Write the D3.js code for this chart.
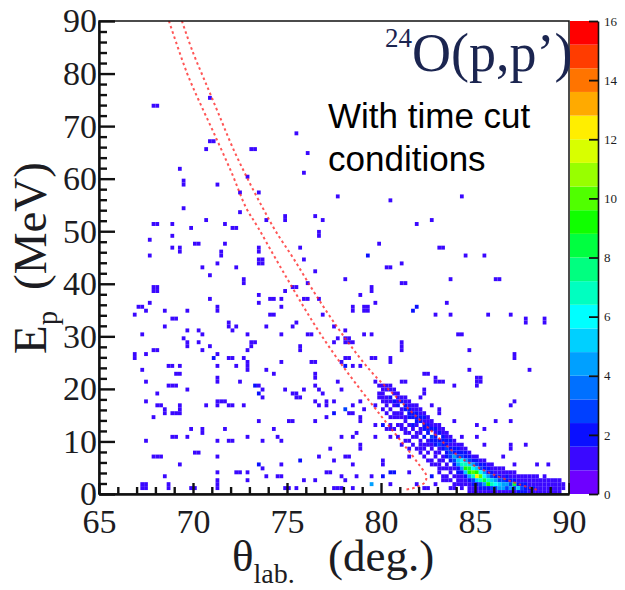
<!DOCTYPE html>
<html>
<head>
<meta charset="utf-8">
<script src="https://cdn.jsdelivr.net/npm/d3@7"></script>
<style>
  body { margin: 0; background: #fff; }
  svg { display: block; }
</style>
</head>
<body>
<svg width="625" height="590"></svg>
<script>
const xTickLabels = [65, 70, 75, 80, 85, 90];
const yTickLabels = [0, 10, 20, 30, 40, 50, 60, 70, 80, 90];
const zTickLabels = [0, 2, 4, 6, 8, 10, 12, 14, 16];
const xMinorTicks = d3.range(66, 90).filter(v => v % 5 !== 0);
const yMinorTicks = d3.range(2, 90, 2).filter(v => v % 10 !== 0);

// ROOT style palette, 20 contour levels from 0 to 16
const palette = ['#6e00ff', '#3a08ff', '#0a10ff', '#0040ff', '#0070ff', '#00a0ff', '#00d0ff', '#00ffff',
  '#00ffc0', '#00ff80', '#00ff40', '#10ff00', '#50ff00', '#98ff00', '#d8ff00', '#ffee00',
  '#ffaa00', '#ff7400', '#ff3c00', '#ff0000'];

// isolated cells [theta, E, count=1]
const sparseCells = [
  [67.9,74.1],[68.1,74.1],[70.85,75.0],[70.9,67.4],[71.1,67.4],[70.7,65.3],[73.0,65.3],[73.2,65.3],
  [69.2,61.5],[69.5,59.6],[69.5,58.9],[71.2,58.7],[72.9,60.6],[72.45,57.2],[73.4,57.2],[69.4,54.7],
  [72.45,53.7],[67.9,51.3],[68.1,51.3],[68.8,51.3],[70.7,51.8],[71.65,51.3],[72.0,50.9],[72.2,50.9],
  [69.9,50.3],[67.7,48.4],[68.8,48.8],[70.0,47.9],[70.2,47.9],[71.65,47.9],[68.8,46.9],[69.2,46.8],
  [69.2,46.0],[67.6,45.6],[71.4,46.3],[71.4,45.6],[73.5,47.0],[73.5,46.3],
  [75.48,68.4],[76.06,64.9],[75.85,61.0],[77.77,56.4],[80.48,55.6],[74.9,53.0],[74.9,52.3],[76.54,53.0],
  [76.8,51.8],[76.65,50.2],[76.65,49.4],[73.8,51.8],[75.7,46.9],[79.95,47.9],[79.36,45.0],[75.85,44.8],
  [84.36,56.4],[81.9,51.3],[82.66,52.2],[83.15,46.9],[83.35,46.9],[84.5,45.0],[85.5,45.6],
  [83.7,40.6],[86.1,41.2],[86.3,41.2],[81.8,35.7],[81.6,35.0],[83.46,36.3],[82.9,34.0],[83.7,34.0],
  [85.6,34.0],[86.97,34.4],[87.77,33.0],[87.77,32.3],[88.7,33.0],[88.7,32.3],[84.1,30.6],[84.3,30.6],
  [84.7,27.2],[87.07,26.4],[87.07,25.6],[87.9,23.4],[84.7,23.4],[82.2,22.8],[82.4,22.8],[82.8,22.3],
  [82.8,21.6],[83.15,21.3],[83.35,21.3],[83.8,20.9],[85.0,22.3],[85.2,22.3],[85.0,21.6],[85.2,21.6],
  [85.0,20.7],[82.35,19.9],[82.2,19.4],[82.07,18.5],[87.07,17.5],[86.8,16.5],[83.05,15.8],[83.05,15.2],
  [82.66,17.1],[83.8,14.0],[86.0,13.7],[86.97,13.7],[85.1,13.1],[85.5,12.7],[84.36,11.2],[85.1,11.2],
  [85.5,9.7],[86.97,9.3],[86.97,8.6],[87.66,9.7],[86.5,7.4],[88.99,5.9],[88.3,5.9],[87.0,5.9],
  [73.56,44.4],[73.75,44.4],[73.56,43.5],[73.75,43.5],[76.4,42.5],[79.38,45.1],[80.2,43.1],[80.4,43.1],
  [81.0,44.1],[78.0,41.2],[81.1,40.3],[81.3,40.3],[79.5,39.6],[79.5,38.8],[75.34,39.7],[75.43,39.1],
  [76.05,40.3],[74.89,38.3],[73.48,37.8],[73.48,36.3],[74.0,37.3],[74.2,37.3],[74.63,37.3],[74.63,35.6],
  [75.8,37.3],[76.0,37.3],[76.67,36.8],[78.97,37.8],[78.44,35.9],[78.44,35.1],[79.1,35.9],[79.3,35.9],
  [79.1,35.2],[79.3,35.2],[79.77,36.3],[81.63,34.9],[81.8,35.6],[74.0,34.0],[74.2,34.0],[76.84,34.0],
  [73.97,31.6],[74.63,30.5],[75.51,32.4],[75.34,32.1],[77.55,32.1],[76.1,30.2],[76.3,30.2],[78.09,31.2],
  [77.64,29.3],[77.46,28.6],[78.1,29.4],[78.3,29.4],[78.1,28.6],[78.3,28.6],[78.5,28.9],[79.15,30.5],
  [79.4,30.1],[81.19,28.6],[81.19,27.9],[81.19,27.2],[75.78,28.3],[75.66,27.4],[73.3,28.9],[74.63,25.3],
  [76.22,25.3],[76.49,24.8],[78.09,26.1],[78.26,25.5],[78.18,24.5],[78.53,24.2],[77.82,25.1],[78.0,24.2],
  [79.5,25.5],[79.77,26.1],[80.48,26.1],[80.48,25.4],[78.97,24.5],[73.83,23.9],[74.36,22.9],[76.58,22.9],
  [76.4,22.0],[77.64,21.0],[77.91,19.8],[79.6,21.3],[79.86,20.7],[80.1,20.4],[81.1,21.0],[81.3,21.0],
  [73.48,20.4],[73.65,19.8],[73.56,18.8],[73.74,18.2],[74.8,20.1],[75.34,19.1],[75.51,18.8],[75.43,18.2],
  [75.78,18.2],[75.96,19.5],[76.49,20.4],[76.76,19.8],[76.93,18.8],[77.02,17.9],[77.46,17.5],[76.4,17.5],
  [76.76,17.2],[78.09,16.3,3],[78.26,15.6],[78.44,16.9],[78.44,15.6],[77.11,16.6],[77.46,15.6],[78.97,17.5],
  [79.06,16.3],[79.6,17.2],[79.86,19.4],[79.95,18.2],[73.56,13.7],[75.0,13.7],[75.2,13.7],[76.4,13.7],
  [77.11,14.4],[77.46,15.0],[78.97,14.4],[78.88,13.7],[79.6,12.8],[80.0,12.8],[74.27,12.1],[74.54,11.2],
  [74.63,10.3],[73.65,10.3],[77.99,10.9],[78.44,11.2],[78.62,11.5],[79.77,10.7],[78.97,9.3],[78.88,8.7],
  [76.76,7.4],[77.38,8.4],[77.55,6.5],[78.09,7.4],[78.26,7.4],[78.53,5.8],[80.0,5.8],[75.69,6.4,2],
  [73.56,5.5],[73.74,4.6],[74.72,5.5],[74.63,3.6],[74.54,3.0],[73.83,3.0],[75.96,2.4],[77.0,3.9],
  [77.2,3.9],[77.91,3.6],[78.0,2.4],[78.62,3.6],[76.49,2.7],[79.4,3.6],[80.0,3.6],[80.5,3.9],[80.7,3.9],
  [80.48,1.7],[77.4,1.1],[77.6,1.1],[77.8,1.1],[78.44,1.1],[79.4,1.7,4],[74.8,1.1],[75.0,1.1],[75.43,1.1],
  [71.38,44.1],[70.44,43.1],[72.2,43.1],[70.85,41.6],[72.62,40.6],[72.77,40.2],[67.9,39.4],[68.1,39.4],
  [67.9,38.8],[68.1,38.8],[70.85,36.8],[71.38,35.9],[71.38,35.2],[67.1,35.9],[67.3,35.8],[66.95,34.4],
  [67.45,34.9],[67.7,36.3],[68.55,34.9],[69.63,34.9],[68.9,33.4],[69.1,33.4],[68.55,32.0],[71.97,32.9],
  [71.97,32.0],[72.27,31.5],[72.1,31.0],[69.63,31.0],[70.27,31.0],[70.59,30.1],[70.27,28.9],[69.49,29.6],
  [69.75,28.9],[69.75,28.2],[67.3,30.1],[70.85,28.2],[72.8,30.1],[73.07,28.9],[73.16,28.4],[72.9,27.7],
  [70.59,27.2],[67.95,27.2],[68.15,27.2],[67.59,26.7],[66.91,26.0],[66.91,26.6],[71.03,26.0],[71.17,25.6],
  [71.38,26.7],[71.97,26.0],[72.1,25.6],[72.77,26.0],[72.9,24.9],[72.9,24.2],[72.9,23.4],[72.36,24.7],
  [68.6,24.7],[68.8,24.7],[69.34,24.7],[71.24,24.3],[69.0,22.9],[69.2,22.9],[67.3,23.3],[67.45,21.3],
  [71.24,22.2],[71.24,21.6],[72.45,21.3],[68.6,20.3],[68.8,20.3],[69.0,20.3],[69.75,19.9],[68.08,19.4],
  [73.26,20.3,2],[67.59,17.5],[68.0,17.0],[68.2,17.0],[69.22,17.0],[69.34,16.0],[69.22,15.5],[68.55,16.0],
  [68.55,15.4],[68.9,15.0],[69.1,15.0],[70.71,16.5],[71.24,16.5],[71.38,17.9],[71.52,17.5],[71.65,17.5],
  [71.9,16.5],[72.1,16.5],[72.62,17.0],[73.47,18.8],[67.85,14.6],[69.9,12.7],[70.59,12.2],[70.59,11.6],
  [71.65,12.7],[68.9,11.2],[69.1,11.2],[69.75,11.2],[71.38,10.3],[71.9,10.3],[72.1,10.3],[72.9,10.7],
  [67.5,9.8],[67.85,7.4],[68.0,6.9],[68.2,6.9],[70.0,7.9],[70.2,7.9],[71.38,7.4],[69.34,5.8],[71.24,4.4],
  [72.36,3.9],[72.5,4.4],[72.9,3.9],[73.4,5.3],[68.55,3.0],[68.67,2.0],[68.67,1.4],[67.3,1.4],[67.45,1.4],
  [67.3,2.0],[67.45,2.0],[71.24,2.6],[71.24,2.0],[71.24,1.4],[69.9,1.1],[70.1,1.1],[72.9,2.5],
  [80.48,12.7],[82.0,8.6],[81.5,7.1],[80.12,6.2],[80.74,4.2],[80.48,4.2],[80.04,3.6],[81.45,3.9],
  [82.6,3.6],[82.78,3.0],[83.14,4.6],[83.5,3.3],[81.9,1.7],[82.25,1.1],[82.87,1.7],[83.3,2.4],
  [83.67,1.1],[82.5,1.1],[83.9,1.1],[84.1,1.9],[84.3,1.1]
];

// dense kinematic band: [theta bin centre, [[E, count], ...]]
const bandColumns = [
  [80.1, [[19.9,1],[19.1,1],[17.6,1],[18.4,1],[16.1,1],[13.1,1]]],
  [80.3, [[20.6,1],[19.9,1],[17.6,1],[18.4,1],[16.9,1],[15.4,1],[12.4,1]]],
  [80.5, [[19.9,1],[18.4,2],[17.6,1],[16.1,1],[14.6,1],[20.6,1],[13.1,1],[10.9,1]]],
  [80.7, [[19.1,1],[17.6,2],[16.9,1],[15.4,1],[14.6,1],[19.9,1],[12.4,1]]],
  [80.9, [[18.4,1],[17.6,1],[16.9,2],[14.6,1],[13.1,1],[19.1,1],[15.4,1],[10.9,1]]],
  [81.1, [[18.4,1],[17.6,2],[15.4,1],[14.6,1],[12.4,1],[16.1,1],[13.1,1],[9.4,1]]],
  [81.3, [[17.6,1],[16.9,2],[16.1,2],[13.9,1],[12.4,1],[18.4,1],[14.6,1],[11.6,1],[10.1,1]]],
  [81.5, [[16.9,1],[16.1,2],[15.4,2],[14.6,2],[11.6,1],[17.6,1],[13.1,1],[10.1,1],[8.6,1]]],
  [81.7, [[16.1,1],[15.4,2],[14.6,2],[13.1,2],[10.9,1],[16.9,1],[12.4,1],[9.4,1]]],
  [81.9, [[16.1,1],[15.4,2],[13.9,2],[13.1,1],[10.9,1],[16.9,1],[14.6,2],[11.6,1],[8.6,1]]],
  [82.1, [[15.4,1],[14.6,2],[13.9,2],[12.4,1],[11.6,1],[10.1,1],[16.1,1],[9.4,1],[7.9,1]]],
  [82.3, [[14.6,2],[13.9,1],[13.1,2],[12.4,2],[10.9,2],[9.4,1],[15.4,1],[8.6,1],[7.1,1]]],
  [82.5, [[13.9,1],[13.1,2],[12.4,2],[11.6,2],[10.1,1],[9.4,1],[14.6,1],[7.9,1],[6.4,1]]],
  [82.7, [[13.1,1],[12.4,2],[10.9,3],[10.1,2],[9.4,1],[8.6,1],[13.9,1],[6.4,1],[5.6,1]]],
  [82.9, [[12.4,2],[11.6,1],[10.9,2],[10.1,2],[9.4,2],[7.9,1],[13.1,1],[7.1,1],[5.6,1]]],
  [83.1, [[12.4,1],[11.6,2],[10.1,2],[9.4,3],[8.6,1],[7.9,1],[6.4,1],[13.1,1],[5.6,1],[4.1,1]]],
  [83.3, [[11.6,1],[10.9,2],[10.1,2],[9.4,2],[8.6,2],[7.1,1],[12.4,1],[6.4,1],[4.9,1],[3.4,1]]],
  [83.5, [[10.9,1],[10.1,2],[9.4,2],[8.6,3],[7.9,2],[7.1,2],[5.6,1],[11.6,1],[4.9,1],[2.6,1]]],
  [83.7, [[10.1,2],[9.4,1],[8.6,2],[7.9,3],[7.1,3],[6.4,2],[4.1,1],[10.9,1],[4.9,1],[2.6,1]]],
  [83.9, [[9.4,1],[8.6,2],[7.9,2],[7.1,4],[6.4,3],[5.6,2],[4.9,1],[3.4,1],[10.1,1],[1.9,1]]],
  [84.1, [[9.4,1],[8.6,2],[7.9,2],[7.1,3],[6.4,5],[5.6,4],[4.9,2],[4.1,2],[3.4,1],[2.6,1]]],
  [84.3, [[8.6,1],[7.9,2],[7.1,3],[6.4,6],[5.6,7],[4.9,4],[4.1,2],[3.4,1],[2.6,1],[9.4,1],[1.9,1]]],
  [84.5, [[7.9,2],[7.1,2],[6.4,4],[5.6,7],[4.9,9],[4.1,5],[3.4,2],[2.6,1],[8.6,1],[1.9,1]]],
  [84.7, [[7.1,2],[6.4,3],[5.6,5],[4.9,8],[4.1,9],[3.4,4],[2.6,2],[1.9,1],[7.9,1],[1.1,1],[0.4,1]]],
  [84.9, [[6.4,2],[5.6,4],[4.9,6],[4.1,10],[3.4,7],[2.6,3],[1.9,2],[1.1,1],[7.1,1],[0.4,1]]],
  [85.1, [[6.4,2],[5.6,3],[4.9,5],[4.1,9],[3.4,12],[2.6,5],[1.9,2],[1.1,1],[7.1,1],[0.4,1]]],
  [85.3, [[5.6,2],[4.9,3],[4.1,6],[3.4,10],[2.6,7],[1.9,3],[1.1,2],[6.4,1],[0.4,1]]],
  [85.5, [[5.6,2],[4.9,2],[4.1,4],[3.4,6],[2.6,8],[1.9,4],[1.1,2],[6.4,1],[0.4,1]]],
  [85.7, [[4.9,2],[4.1,2],[3.4,4],[2.6,7],[1.9,9],[1.1,2],[5.6,1],[0.4,1]]],
  [85.9, [[4.9,1],[4.1,2],[3.4,3],[2.6,5],[1.9,7],[1.1,3],[0.4,1],[5.6,1]]],
  [86.1, [[4.1,1],[3.4,2],[2.6,4],[1.9,6],[1.1,3],[4.9,1],[0.4,1]]],
  [86.3, [[4.1,1],[3.4,2],[2.6,3],[1.9,5],[1.1,4],[0.4,1],[4.9,1]]],
  [86.5, [[4.9,1],[3.4,1],[2.6,3],[1.9,4],[1.1,4],[0.4,1],[4.1,1]]],
  [86.7, [[3.4,2],[2.6,2],[1.9,4],[1.1,3],[0.4,1],[4.1,1]]],
  [86.9, [[4.1,1],[2.6,2],[1.9,3],[1.1,4],[3.4,1],[0.4,1]]],
  [87.1, [[3.4,1],[2.6,2],[1.9,8],[1.1,3],[0.4,1],[4.1,1]]],
  [87.3, [[3.4,1],[1.9,2],[1.1,5],[0.4,2],[2.6,1]]],
  [87.5, [[2.6,1],[1.9,2],[1.1,3],[0.4,2],[3.4,1]]],
  [87.7, [[2.6,1],[1.9,2],[1.1,2],[0.4,2],[3.4,1]]],
  [87.9, [[3.4,1],[1.9,1],[1.1,2],[0.4,1],[2.6,1]]],
  [88.1, [[2.6,1],[1.9,1],[1.1,2],[0.4,1],[3.4,1]]],
  [88.3, [[3.4,1],[1.9,1],[1.1,1],[2.6,1],[0.4,1]]],
  [88.5, [[1.9,1],[1.1,1],[2.6,1],[0.4,1]]],
  [88.7, [[2.6,1],[1.9,1],[1.1,1],[3.4,1],[0.4,1]]],
  [88.9, [[1.9,1],[1.1,1],[2.6,1],[0.4,1]]],
  [89.1, [[2.6,1],[1.9,1],[1.1,1],[0.4,1]]],
  [89.3, [[2.6,1],[1.1,1],[1.9,1],[0.4,1]]],
  [89.5, [[1.9,1],[1.1,1],[2.6,1],[0.4,1]]],
  [89.7, [[1.9,1],[1.1,1]]]
];

// kinematic cut lines [theta, E]
const lowerCut = [[68.72,90],[69.68,80.1],[70.32,74.8],[71.12,68.6],[72.07,61.0],[72.82,54.5],[73.46,50.7],
  [74.36,45.0],[76.38,32.7],[77.55,26.4],[78.6,21.3],[79.84,15.6],[81.1,9.9],[81.65,7.4],[82.1,5.2],
  [82.4,3.6],[82.35,2.3],[81.9,1.3],[81.2,0.8]];
const upperCut = [[69.41,90],[70.0,84.0],[70.7,78.0],[71.4,72.0],[72.1,66.0],[72.9,60.0],[73.7,54.5],
  [74.4,50.0],[75.4,44.5],[76.6,37.5],[78.1,29.6],[79.5,23.2],[80.8,18.5],[81.4,16.4],[82.8,11.6],
  [84.2,7.0],[85.6,4.3],[87.0,2.3],[87.9,1.2],[88.3,0.8]];

const binX = 0.2, binY = 0.75, zMax = 16;
const serif = '"Liberation Serif", "DejaVu Serif", serif';
const ink = '#1c1c22';
const tickInk = '#111';
const margin = { left: 99, right: 56, top: 21, bottom: 96 };

const svg = d3.select('svg');
const width = +svg.attr('width');
const height = +svg.attr('height');
const plotW = width - margin.left - margin.right;
const plotH = height - margin.top - margin.bottom;

const xScale = d3.scaleLinear().domain([65, 90]).range([0, plotW]);
const yScale = d3.scaleLinear().domain([0, 90]).range([plotH, 0]);
const zScale = d3.scaleQuantize().domain([0, zMax]).range(palette);

// fill the 2D histogram
const counts = new Map();
const addCell = (t, e, n) => {
  const i = Math.floor((t - 65) / binX + 1e-6);
  const j = Math.floor(e / binY + 1e-6);
  const k = i + ',' + j;
  counts.set(k, (counts.get(k) || 0) + n);
};
sparseCells.forEach(d => addCell(d[0], d[1], d[2] || 1));
bandColumns.forEach(([t, list]) => list.forEach(([e, n]) => addCell(t, e, n)));
const cells = Array.from(counts, ([k, n]) => {
  const [i, j] = k.split(',').map(Number);
  return { x0: 65 + i * binX, y0: j * binY, n: n };
});

const g = svg.append('g')
  .attr('transform', `translate(${margin.left}, ${margin.top})`);

g.append('clipPath').attr('id', 'plotclip')
  .append('rect').attr('width', plotW).attr('height', plotH);

const cellG = g.append('g').attr('clip-path', 'url(#plotclip)');
cellG.selectAll('rect').data(cells).enter().append('rect')
  .attr('x', d => xScale(d.x0))
  .attr('y', d => yScale(d.y0 + binY))
  .attr('width', d => xScale(d.x0 + binX) - xScale(d.x0))
  .attr('height', d => yScale(d.y0) - yScale(d.y0 + binY))
  .attr('fill', d => zScale(Math.min(d.n, zMax - 0.01)));

const line = d3.line()
  .x(d => xScale(d[0]))
  .y(d => yScale(d[1]))
  .curve(d3.curveCatmullRom);
[lowerCut, upperCut].forEach(c => {
  cellG.append('path')
    .datum(c)
    .attr('fill', 'none')
    .attr('stroke', '#ff2a2a')
    .attr('stroke-opacity', 0.8)
    .attr('stroke-width', 2)
    .attr('stroke-dasharray', '2.5,3')
    .attr('d', line);
});

// frame
g.append('rect')
  .attr('width', plotW).attr('height', plotH)
  .attr('fill', 'none').attr('stroke', '#111').attr('stroke-width', 1.5);

// axes with inward ticks (major and minor)
const xAxisG = g.append('g').attr('transform', `translate(0, ${plotH})`);
const xMinorG = g.append('g').attr('transform', `translate(0, ${plotH})`);
const yAxisG = g.append('g');
const yMinorG = g.append('g');
xMinorG.call(d3.axisBottom(xScale).tickValues(xMinorTicks).tickSizeInner(-7).tickSizeOuter(0).tickFormat(() => ''));
yMinorG.call(d3.axisLeft(yScale).tickValues(yMinorTicks).tickSizeInner(-8).tickSizeOuter(0).tickFormat(() => ''));
xAxisG.call(d3.axisBottom(xScale).tickValues(xTickLabels).tickSizeInner(-11).tickSizeOuter(0).tickPadding(15));
yAxisG.call(d3.axisLeft(yScale).tickValues(yTickLabels).tickSizeInner(-16).tickSizeOuter(0).tickPadding(2));
[xMinorG, yMinorG].forEach(a => { a.select('.domain').remove(); a.selectAll('text').remove(); });
[xAxisG, yAxisG, xMinorG, yMinorG].forEach(a => {
  a.selectAll('.tick line').attr('stroke', tickInk).attr('stroke-width', 2.4);
  a.select('.domain').attr('stroke', '#111').attr('stroke-width', 2.4);
  a.selectAll('text').attr('font-family', serif).attr('font-size', 34).attr('fill', ink);
});

// title texts
const title = g.append('text')
  .attr('font-family', serif).attr('fill', '#1b2550')
  .attr('x', 286).attr('y', 50);
title.append('tspan').attr('font-size', 27).attr('dy', -24).text('24');
title.append('tspan').attr('font-size', 54).attr('dy', 24).text('O(p,p’)');

g.append('text').attr('x', 229).attr('y', 107)
  .attr('font-family', '"Liberation Sans", Arial, sans-serif')
  .attr('font-size', 35).attr('fill', '#000').text('With time cut');
g.append('text').attr('x', 229).attr('y', 150)
  .attr('font-family', '"Liberation Sans", Arial, sans-serif')
  .attr('font-size', 35).attr('fill', '#000').text('conditions');

// axis titles
const xTitle = svg.append('text').attr('font-family', serif).attr('fill', ink)
  .attr('x', 232).attr('y', 571);
xTitle.append('tspan').attr('font-size', 45).text('θ');
xTitle.append('tspan').attr('font-size', 28).attr('dy', 12).text('lab.');
xTitle.append('tspan').attr('font-size', 45).attr('x', 328).attr('dy', -12).text('(deg.)');

const yTitle = svg.append('text').attr('font-family', serif).attr('fill', ink)
  .attr('transform', 'translate(46, 354) rotate(-90)');
yTitle.append('tspan').attr('font-size', 47).text('E');
yTitle.append('tspan').attr('font-size', 29).attr('dy', 11).text('p');
yTitle.append('tspan').attr('font-size', 47).attr('x', 64).attr('dy', -11).text('(MeV)');

// colour bar
const barW = 28;
const zBar = d3.scaleLinear().domain([0, zMax]).range([plotH, 0]);
const barG = svg.append('g')
  .attr('transform', `translate(${margin.left + plotW + 1}, ${margin.top})`);
barG.selectAll('.band').data(palette).enter().append('rect')
  .attr('x', 0)
  .attr('width', barW)
  .attr('y', (d, i) => zBar((i + 1) * zMax / palette.length))
  .attr('height', (d, i) => zBar(i * zMax / palette.length) - zBar((i + 1) * zMax / palette.length))
  .attr('fill', d => d);
const zAxisG = barG.append('g').attr('transform', `translate(${barW}, 0)`);
zAxisG.call(d3.axisRight(zBar).tickValues(zTickLabels).tickSizeInner(-9).tickSizeOuter(0).tickPadding(6));
zAxisG.selectAll('.tick line').attr('stroke', tickInk).attr('stroke-width', 1.8);
zAxisG.select('.domain').attr('stroke', '#111').attr('stroke-width', 1.6);
zAxisG.selectAll('text').attr('font-family', serif).attr('font-size', 13).attr('fill', ink);
</script>
</body>
</html>
